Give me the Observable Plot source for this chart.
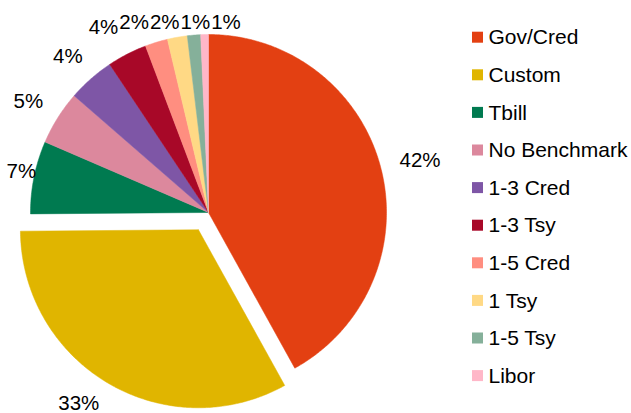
<!DOCTYPE html>
<html><head><meta charset="utf-8">
<script src="https://cdn.jsdelivr.net/npm/d3@7"></script>
<script src="https://cdn.jsdelivr.net/npm/@observablehq/plot@0.6"></script>
<style>html,body{margin:0;padding:0;background:#fff} #chart{width:631px;height:413px}</style>
</head><body><div id="chart"></div>
<script>
// ---- data ----
const categories = ["Gov/Cred","Custom","Tbill","No Benchmark","1-3 Cred","1-3 Tsy","1-5 Cred","1 Tsy","1-5 Tsy","Libor"];
const shares = [41.9, 32.9, 6.6, 4.9, 4.25, 3.6, 2.05, 1.8, 1.2, 0.7];
const colors = ["#E34012","#E0B500","#007A50","#DC889D","#7E56A6","#A80828","#FF8E80","#FFD985","#85B09A","#FFB7C8"];
const exploded = ["Custom"];

// ---- layout ----
const W = 631, H = 413;
const cx = 208, cy = 212, r = 178, explode = 20, gap = 20, fs = 20.5, legFs = 21;
const legX = 472, legY0 = 37.2, legStep = 37.6, sq = 11;
const yMin = 22, yMax = 403;

const rows = categories.map((cat, i) => ({cat, share: shares[i]}));
const total = d3.sum(shares);
const arcs = d3.pie().sort(null).value(d => d.share).startAngle(0).endAngle(2 * Math.PI)(rows);

// slice polygons
const pts = [];
for (const a of arcs) {
  const m = (a.startAngle + a.endAngle) / 2;
  const off = exploded.includes(a.data.cat) ? explode : 0;
  const ox = cx + off * Math.sin(m), oy = cy - off * Math.cos(m);
  pts.push({cat: a.data.cat, x: ox, y: oy});
  const n = Math.max(2, Math.ceil((a.endAngle - a.startAngle) / 0.01));
  for (let k = 0; k <= n; k++) {
    const t = a.startAngle + (a.endAngle - a.startAngle) * k / n;
    pts.push({cat: a.data.cat, x: ox + r * Math.sin(t), y: oy - r * Math.cos(t)});
  }
  pts.push({cat: a.data.cat, x: ox, y: oy});
}

// labels
const labs = arcs.map(a => {
  const m = (a.startAngle + a.endAngle) / 2, s = Math.sin(m), c = Math.cos(m);
  const off = exploded.includes(a.data.cat) ? explode : 0;
  const text = Math.round(a.data.share / total * 100) + "%";
  const w = fs * (0.556 * (text.length - 1) + 0.889), h = fs;
  const R = r + gap;
  const ox = cx + off * s, oy = cy - off * c;
  const l = {cat: a.data.cat, text, w, h, x: ox + R * s + w / 2 * s, y: oy - R * c - h / 2 * c};
  // below the bottom edge: slide along the circle of the same radius
  if (l.y > yMax) {
    const d = Math.hypot(l.x - ox, l.y - oy), dy = yMax - oy;
    l.x = ox + Math.sign(s) * Math.sqrt(Math.max(0, d * d - dy * dy));
    l.y = yMax;
  }
  return l;
});
function clamp(l) {
  l.x = Math.max(l.w / 2 + 6, Math.min(W - l.w / 2 - 6, l.x));
  l.y = Math.max(yMin, Math.min(yMax, l.y));
}
labs.forEach(clamp);
for (let it = 0; it < 400; it++) {
  for (let i = 0; i < labs.length; i++) for (let j = i + 1; j < labs.length; j++) {
    const a = labs[i], b = labs[j];
    const dx = b.x - a.x, dy = b.y - a.y;
    const ox = (a.w + b.w) / 2 + 1 - Math.abs(dx), oy = (a.h + b.h) / 2 - Math.abs(dy);
    if (ox > 0 && oy > 0) {
      const sx = dx >= 0 ? 1 : -1;
      a.x -= sx * ox / 4; b.x += sx * ox / 4;
      clamp(a); clamp(b);
    }
  }
}

const legend = categories.map((cat, i) => ({cat, y: legY0 + i * legStep}));

const chart = Plot.plot({
  width: W, height: H,
  margin: 0,
  style: {fontFamily: "'Liberation Sans', Arial, sans-serif", background: "#fff", color: "#000"},
  x: {domain: [0, W], range: [0, W], axis: null},
  y: {domain: [0, H], range: [0, H], axis: null},
  color: {type: "ordinal", domain: categories, range: colors},
  marks: [
    Plot.line(pts, {x: "x", y: "y", z: "cat", fill: "cat", stroke: "cat", strokeWidth: 0.5, curve: "linear"}),
    Plot.text(labs, {x: "x", y: "y", text: "text", fontSize: fs, fill: "#000"}),
    Plot.rect(legend, {x1: () => legX, x2: () => legX + sq, y1: d => d.y - sq / 2, y2: d => d.y + sq / 2, fill: "cat"}),
    Plot.text(legend, {x: () => legX + sq + 5, y: "y", text: "cat", textAnchor: "start", fontSize: legFs, fill: "#000"})
  ]
});
document.getElementById("chart").appendChild(chart);
</script>
</body></html>
